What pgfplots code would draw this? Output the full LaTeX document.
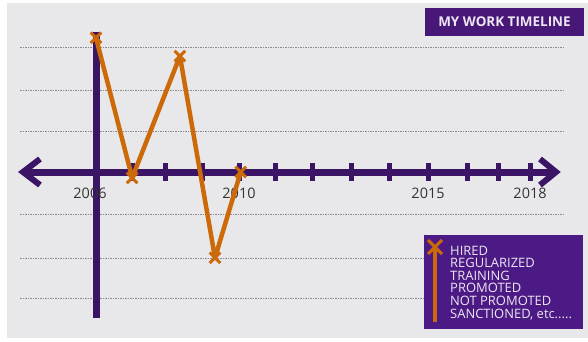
\documentclass[border=0pt]{standalone}
\usepackage{pgfplots}
\pgfplotsset{compat=1.18}
\usepackage{fontspec}
\setmainfont{Open Sans}
\definecolor{bgpanel}{HTML}{E8E8EA}
\definecolor{axpurple}{HTML}{3B1466}
\definecolor{titlepurple}{HTML}{481878}
\definecolor{legpurple}{HTML}{4C1A84}
\definecolor{lineorange}{HTML}{CC6A0A}
\definecolor{gridc}{HTML}{8E8A94}
\definecolor{labc}{HTML}{333333}
\definecolor{txtw}{HTML}{EDE6F3}
\begin{document}
\begin{tikzpicture}
% pixel-based decoration layer (y downward)
\begin{scope}[x=1bp,y=-1bp,shift={(0,341bp)}]
  \fill[white] (0,0) rectangle (588,341);
  \fill[bgpanel] (7,3) rectangle (588,338);
  \foreach \gy in {47,90,131,214,258,298}
    \draw[gridc, line width=0.6bp, dash pattern=on 1.5bp off 1bp] (20,\gy) -- (564,\gy);
  \draw[axpurple, line width=7bp] (26,172) -- (552,172);
  \draw[axpurple, line width=6bp, line join=miter] (40,159) -- (23,172) -- (40,185);
  \draw[axpurple, line width=6bp, line join=miter] (540,159) -- (556,172) -- (540,185);
  \foreach \tx in {132,165,202,239,275,312,351,389,428,467,498,530}
    \draw[axpurple, line width=5bp] (\tx,163) -- (\tx,181);
  \draw[axpurple, line width=7bp] (96,32) -- (96,318);
  \foreach \lx/\lt in {90/2006,239/2010,428/2015,530/2018}
    \node[anchor=base, text=labc, font=\fontsize{14.5}{16}\selectfont, inner sep=0pt] at (\lx,198) {\lt};
\end{scope}
\begin{axis}[
  at={(0,0)}, anchor=south west,
  width=588bp, height=341bp, scale only axis,
  xmin=2003.346, xmax=2019.602,
  ymin=-4.056, ymax=4.128,
  hide axis, clip=false,
]
\addplot[lineorange, line width=4.5bp, line join=round,
  mark=x, mark size=7.5bp, mark options={line width=3bp, solid}]
  coordinates {
    (2006,3.22) (2007,-0.14) (2008.32,2.78) (2009.29,-2.06) (2010,0)
  };
\end{axis}
\begin{scope}[x=1bp,y=-1bp,shift={(0,341bp)}]
  \fill[titlepurple] (425,8) rectangle (584,36);
  \node[anchor=base, text=txtw, font=\fontsize{13.5}{16}\selectfont\bfseries, inner sep=0pt] at (504.5,26.5) {MY WORK TIMELINE};
  \fill[legpurple] (424,235) rectangle (583,329);
  \draw[lineorange, line width=4bp] (435,245) -- (435,322);
  \draw[lineorange, line width=3bp] (428,240) -- (442,254) (442,240) -- (428,254);
  \foreach \k/\t in {0/HIRED,1/REGULARIZED,2/TRAINING,3/PROMOTED,4/NOT PROMOTED,5/{SANCTIONED, etc.....}}
    \node[anchor=base west, text=txtw, font=\fontsize{13}{14}\selectfont, inner sep=0pt] at (450,{255+12.65*\k}) {\t};
\end{scope}
\end{tikzpicture}
\end{document}
